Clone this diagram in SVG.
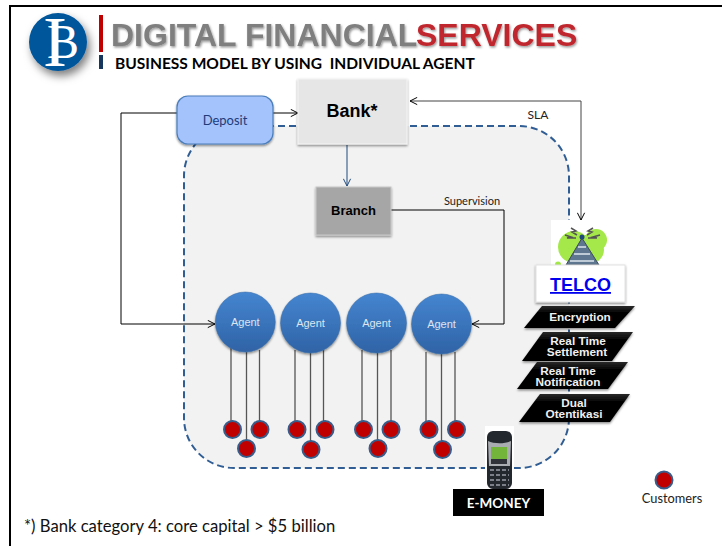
<svg xmlns="http://www.w3.org/2000/svg" width="722" height="546" viewBox="0 0 722 546">
<style>
text{font-family:"Liberation Sans",Arial,sans-serif}
.cal{font-family:Lato,"Open Sans",sans-serif}
.conn{fill:none;stroke:#000;stroke-width:1}
.gray{stroke:#444}
.lead{stroke:#555;stroke-width:1.3;fill:none}
.cust{fill:#c00000;stroke:#385d8a;stroke-width:2}
.agent{fill:url(#ag);stroke:#3a6ea8;stroke-width:.5;filter:url(#sh)}
.agt{font-size:11px;fill:#dce6f2;text-anchor:middle}
.para{fill:url(#blk);filter:url(#sh)}
.pt{font-size:11.800px;font-weight:bold;fill:#f0f0f0;text-anchor:middle}
.bolt{stroke:#555;stroke-width:1.500;fill:none}
.lime{fill:#a4e84a}
</style>
<defs>
<linearGradient id="ag" x1="0" y1="0" x2="0" y2="1"><stop offset="0" stop-color="#4585d0"/><stop offset="1" stop-color="#2f63a6"/></linearGradient>
<linearGradient id="blk" x1="0" y1="0" x2="0" y2="1"><stop offset="0" stop-color="#2a2a2a"/><stop offset=".3" stop-color="#000"/><stop offset="1" stop-color="#000"/></linearGradient>
<filter id="sh" x="-20%" y="-20%" width="140%" height="140%"><feDropShadow dx="0" dy="1.500" stdDeviation="1.200" flood-color="#000" flood-opacity=".45"/></filter>
<filter id="ts" x="-5%" y="-20%" width="110%" height="140%"><feDropShadow dx="1" dy="1.500" stdDeviation="1" flood-color="#000" flood-opacity=".4"/></filter>
<filter id="lg" x="-30%" y="-30%" width="170%" height="170%"><feDropShadow dx="3" dy="5" stdDeviation="4" flood-color="#000" flood-opacity=".5"/></filter>
<marker id="op" viewBox="0 0 10 10" refX="9" refY="5" markerWidth="9" markerHeight="9" markerUnits="userSpaceOnUse" orient="auto-start-reverse"><path d="M1 1L9 5L1 9" fill="none" stroke="#000" stroke-width="1.100"/></marker>
<marker id="opb" viewBox="0 0 10 10" refX="9" refY="5" markerWidth="9" markerHeight="9" markerUnits="userSpaceOnUse" orient="auto"><path d="M1 1L9 5L1 9" fill="none" stroke="#1f497d" stroke-width="1.100"/></marker>
</defs>
<rect width="722" height="546" fill="#fff"/>
<path d="M10 546V6H722" fill="none" stroke="#000" stroke-width="2"/>

<g id="logo">
<circle cx="58" cy="42" r="29" fill="#00569b" filter="url(#lg)"/>
<text x="43" y="66" style="font-family:'Liberation Serif',serif" fill="#fff"><tspan font-size="72">I</tspan><tspan font-size="48" dx="-20" dy="-8">B</tspan></text>
</g>
<g id="title">
<rect x="99" y="15" width="4" height="37" fill="#c00000"/>
<rect x="99" y="55" width="4" height="14" fill="#17365d"/>
<text x="111" y="46" font-size="32" font-weight="bold" fill="#7f7f7f" filter="url(#ts)">DIGITAL FINANCIAL</text>
<text x="416" y="46" font-size="32" font-weight="bold" fill="#c0272d" filter="url(#ts)">SERVICES</text>
<text x="115" y="69" font-size="15.560" font-weight="bold" class="cal" fill="#000" style="white-space:pre">BUSINESS MODEL BY USING  INDIVIDUAL AGENT</text>
</g>

<rect id="boundary" x="184" y="126" width="385" height="342" rx="50" fill="#f2f2f2" stroke="#2f5d94" stroke-width="2" stroke-dasharray="7 4"/>

<g id="connectors">
<path class="conn" d="M177 113H121V324H215" marker-end="url(#op)"/>
<path class="conn" d="M273 113H298" marker-end="url(#op)"/>
<path class="conn" style="stroke:#1f497d" d="M347 145V186" marker-end="url(#opb)"/>
<path class="conn" d="M391 210H504V324H472" marker-end="url(#op)"/>
<path class="conn gray" d="M410 101H581V220" marker-start="url(#op)" marker-end="url(#op)"/>
<g class="leads">
<path class="lead" d="M231 348V421M246.500 352V441M259.500 350V421"/>
<path class="lead" d="M295 350V421M310.500 352V441M323.500 350V421"/>
<path class="lead" d="M362 350V421M377.500 352V441M391 350V421"/>
<path class="lead" d="M426 352V421M441.500 354V441M455 352V421"/>
</g>
</g>

<g id="deposit"><rect x="177" y="96" width="96" height="48" rx="11" fill="#a4c2fb" stroke="#4a7ebb" stroke-width="1.200" filter="url(#sh)"/><text x="225" y="125" class="cal" font-size="13" fill="#1f3c7a" text-anchor="middle">Deposit</text></g>
<g id="bank"><rect x="298" y="79" width="109" height="65" fill="#e6e6e6" stroke="#f4f4f4" filter="url(#sh)"/><text x="352" y="117" font-size="18" font-weight="bold" fill="#000" text-anchor="middle">Bank*</text></g>
<g id="branch"><rect x="316" y="187" width="75" height="48" fill="#a6a6a6" stroke="#c8c8c8" filter="url(#sh)"/><text x="353.500" y="215" font-size="13" font-weight="bold" fill="#000" text-anchor="middle">Branch</text></g>
<text x="538" y="119" class="cal" font-size="12" fill="#222" text-anchor="middle">SLA</text>
<text x="472" y="205" class="cal" font-size="11" fill="#222" text-anchor="middle">Supervision</text>

<g id="agent1"><circle class="agent" cx="245.300" cy="322" r="30"/><text class="agt" x="245.300" y="326">Agent</text></g>
<g id="agent2"><circle class="agent" cx="310.500" cy="323" r="30"/><text class="agt" x="310.500" y="327">Agent</text></g>
<g id="agent3"><circle class="agent" cx="376.500" cy="323" r="30"/><text class="agt" x="376.500" y="327">Agent</text></g>
<g id="agent4"><circle class="agent" cx="441.500" cy="324" r="30"/><text class="agt" x="441.500" y="328">Agent</text></g>

<g id="customers-1"><circle class="cust" cx="232.500" cy="429.500" r="8.500"/><circle class="cust" cx="260" cy="429.500" r="8.500"/><circle class="cust" cx="246.500" cy="448.500" r="8.500"/></g>
<g id="customers-2"><circle class="cust" cx="297" cy="429.500" r="8.500"/><circle class="cust" cx="325" cy="429.500" r="8.500"/><circle class="cust" cx="311" cy="449.500" r="8.500"/></g>
<g id="customers-3"><circle class="cust" cx="363.500" cy="429.500" r="8.500"/><circle class="cust" cx="391" cy="429.500" r="8.500"/><circle class="cust" cx="378" cy="448.500" r="8.500"/></g>
<g id="customers-4"><circle class="cust" cx="429" cy="429.500" r="8.500"/><circle class="cust" cx="456.500" cy="429.500" r="8.500"/><circle class="cust" cx="442.500" cy="449.500" r="8.500"/></g>

<g id="telco">
<rect x="551" y="220" width="60" height="46" fill="#fff"/>
<circle class="lime" cx="574" cy="247" r="16"/>
<circle class="lime" cx="596" cy="240" r="11"/>
<ellipse class="lime" cx="586" cy="250" rx="18" ry="15"/>
<circle class="lime" cx="558" cy="264.500" r="3"/>
<path d="M582 238L566 265H599Z" fill="#5f7690" stroke="#3c4a5c"/>
<path d="M578 247H586M574 254H590M570 261H594" stroke="#dfe6ee" stroke-width="1.500" fill="none"/>
<circle cx="582" cy="237" r="2.500" fill="#1f497d"/>
<path class="bolt" d="M571 228L576 231L572 232L577 235M565 235L571 237L567 238L576 238M593 228L588 231L592 232L587 235M600 235L593 237L597 238L588 238"/>
<rect x="536" y="265" width="89" height="37" fill="#fff" stroke="#e2e2e2" filter="url(#sh)"/>
<text x="580.500" y="291" font-size="18" font-weight="bold" fill="#0000ee" text-decoration="underline" text-anchor="middle">TELCO</text>
</g>
<g id="encryption"><path class="para" d="M542 306H635L615 328H524Z"/><text class="pt" x="580" y="321">Encryption</text></g>
<g id="settlement"><path class="para" d="M543 332H633L612 361H522Z"/><text class="pt"><tspan x="578" y="345">Real Time</tspan><tspan x="577" y="356">Settlement</tspan></text></g>
<g id="notification"><path class="para" d="M537 362H628L608 389H517Z"/><text class="pt"><tspan x="568" y="375">Real Time</tspan><tspan x="568" y="386">Notification</tspan></text></g>
<g id="otentikasi"><path class="para" d="M540 394H630L610 422H519Z"/><text class="pt"><tspan x="574" y="407">Dual</tspan><tspan x="574" y="418">Otentikasi</tspan></text></g>

<g id="e-money">
<rect x="485" y="426" width="29" height="64" fill="#fff"/>
<rect x="487" y="431" width="25" height="58" rx="6" fill="#23272e"/>
<path d="M488 441C494 444 505 444 511 441L510 466L489 466Z" fill="#a9acb0"/>
<rect x="491" y="447" width="16" height="12" fill="#72b53a"/>
<rect x="491" y="459" width="16" height="5" fill="#30343a"/>
<path d="M490 470h19M490 475h19M490 480h19M490 485h19" stroke="#9aa0a8" stroke-width="1.500" stroke-dasharray="4 2" fill="none"/>
<rect x="453" y="489" width="91" height="27" fill="#000"/>
<text x="498.500" y="508" class="cal" font-size="13.500" font-weight="bold" fill="#fff" text-anchor="middle">E-MONEY</text>
</g>
<g id="legend"><circle class="cust" cx="664" cy="480" r="8.500"/><text x="672" y="503" class="cal" font-size="12.800" fill="#222" text-anchor="middle">Customers</text></g>
<text id="footnote" x="24" y="531.500" class="cal" font-size="16.650" fill="#111">*) Bank category 4: core capital &gt; $5 billion</text>
</svg>
